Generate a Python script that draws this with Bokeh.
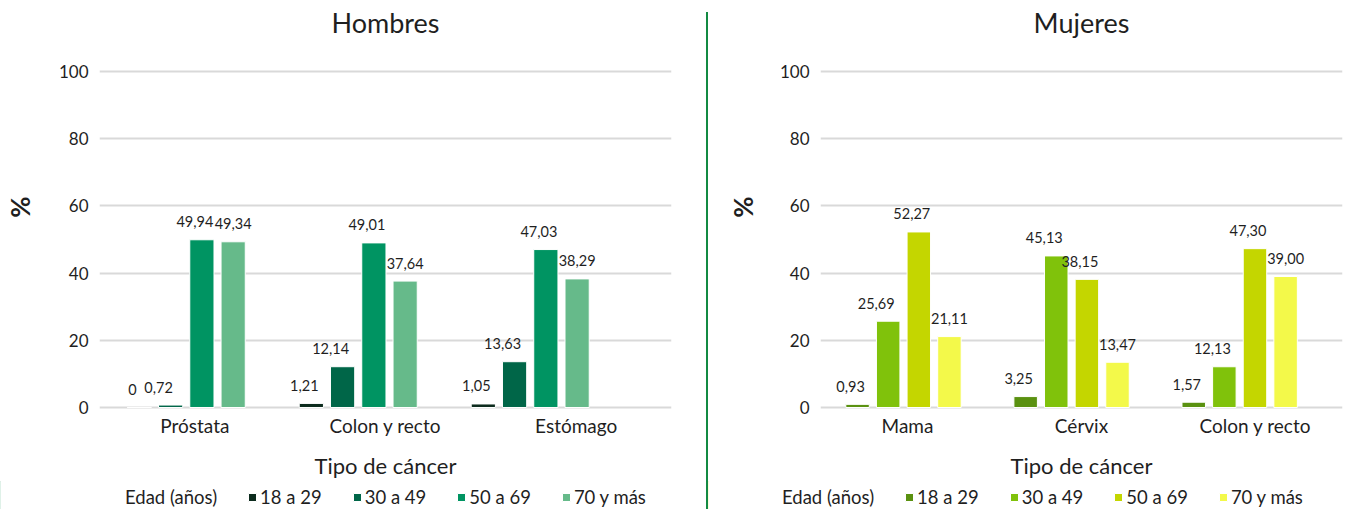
from bokeh.plotting import figure
from bokeh.models import Range1d, FixedTicker, Legend, LegendItem, ColumnDataSource, Label, Div
from bokeh.layouts import row, column
from bokeh.embed import file_html
from bokeh.resources import INLINE
from bokeh.core.properties import value

# ---------------- data ----------------
age_groups = ["18 a 29", "30 a 49", "50 a 69", "70 y más"]
legend_title = "Edad (años)"

men_cancers = ["Próstata", "Colon y recto", "Estómago"]
men_18_29 = [0, 1.21, 1.05]
men_30_49 = [0.72, 12.14, 13.63]
men_50_69 = [49.94, 49.01, 47.03]
men_70_plus = [49.34, 37.64, 38.29]

women_cancers = ["Mama", "Cérvix", "Colon y recto"]
women_18_29 = [0.93, 3.25, 1.57]
women_30_49 = [25.69, 45.13, 12.13]
women_50_69 = [52.27, 38.15, 47.30]
women_70_plus = [21.11, 13.47, 39.00]

y_ticks = [0, 20, 40, 60, 80, 100]

men_colors = ["#0c2b1d", "#006648", "#009462", "#66ba8a"]
women_colors = ["#5a9110", "#80c20b", "#c4d600", "#f3f94a"]

FONT = "Lato"
TXT = "#1f1f1f"
TITLE_Y = 114.6       # title height in axis units (above the 100 gridline)


def fmt(v):
    return "0" if v == 0 else f"{v:.2f}".replace(".", ",")


def make_panel(title, cats, series, colors, width, border_left, border_right,
               group_start, group_step, bar_step, bar_width, pct_standoff, legend_x):
    p = figure(width=width, height=481, output_backend="svg", toolbar_location=None,
               title=None,
               x_range=Range1d(0, len(cats)), y_range=Range1d(-0.6, 120),
               min_border_left=border_left, min_border_right=border_right,
               min_border_top=4, min_border_bottom=72)
    p.outline_line_color = None
    p.xgrid.grid_line_color = None
    p.ygrid.grid_line_color = "#d9d9d9"
    p.ygrid.grid_line_width = 2
    p.ygrid.ticker = FixedTicker(ticks=y_ticks)

    p.add_layout(Label(x=len(cats) / 2, y=TITLE_Y, text=title, text_align="center",
                       text_baseline="middle", text_font=FONT, text_font_size="27px",
                       text_color=TXT))

    # axes
    p.yaxis.ticker = FixedTicker(ticks=y_ticks)
    p.yaxis.axis_line_color = None
    p.yaxis.major_tick_line_color = None
    p.yaxis.minor_tick_line_color = None
    p.yaxis.major_tick_out = 0
    p.yaxis.major_tick_in = 0
    p.yaxis.major_label_text_font = FONT
    p.yaxis.major_label_text_font_size = "17px"
    p.yaxis.major_label_text_color = TXT
    p.yaxis.major_label_standoff = 11
    p.yaxis.axis_label = "%"
    p.yaxis.axis_label_text_font = FONT
    p.yaxis.axis_label_text_font_size = "26px"
    p.yaxis.axis_label_text_font_style = "bold"
    p.yaxis.axis_label_text_color = TXT
    p.yaxis.axis_label_standoff = pct_standoff

    centers = [i + 0.5 for i in range(len(cats))]
    p.xaxis.ticker = FixedTicker(ticks=centers)
    p.xaxis.major_label_overrides = {c: name for c, name in zip(centers, cats)}
    p.xaxis.axis_line_color = None
    p.xaxis.major_tick_line_color = None
    p.xaxis.minor_tick_line_color = None
    p.xaxis.major_tick_out = 0
    p.xaxis.major_tick_in = 0
    p.xaxis.major_label_text_font = FONT
    p.xaxis.major_label_text_font_size = "19px"
    p.xaxis.major_label_text_color = TXT
    p.xaxis.major_label_standoff = 4
    p.xaxis.axis_label = "Tipo de cáncer"
    p.xaxis.axis_label_text_font = FONT
    p.xaxis.axis_label_text_font_size = "22px"
    p.xaxis.axis_label_text_font_style = "normal"
    p.xaxis.axis_label_text_color = TXT
    p.xaxis.axis_label_standoff = 12

    # legend strip underneath the chart (its own x range keeps the proxy bars off-view)
    lf = figure(width=width, height=28, output_backend="svg", toolbar_location=None,
                title=None, x_range=Range1d(10, 11), y_range=Range1d(0, 1), min_border=0,
                x_axis_location=None, y_axis_location=None)
    lf.xgrid.grid_line_color = None
    lf.ygrid.grid_line_color = None
    lf.outline_line_color = None
    if "frame_align" in lf.properties():
        lf.frame_align = False
        vx = legend_x
    else:
        vx = legend_x - border_left

    title_r = lf.vbar(x=[], top=[], width=0.1, fill_alpha=0, line_alpha=0)
    items = [LegendItem(label=legend_title, renderers=[title_r])]

    label_dx = [-7, -12, -7, 0]
    for j, (vals, col, age) in enumerate(zip(series, colors, age_groups)):
        xs = [group_start + group_step * i + (j - 1.5) * bar_step for i in range(len(cats))]
        src = ColumnDataSource(dict(x=xs, top=vals, lab=[fmt(v) for v in vals]))
        p.vbar(x="x", top="top", bottom=0, width=bar_width, source=src,
               fill_color=col, line_color="white", line_width=1)
        p.text(x="x", y="top", text="lab", source=src, x_offset=label_dx[j], y_offset=-18,
               text_align="center", text_baseline="middle", text_font=value(FONT),
               text_font_size="14.5px", text_color=TXT)
        r = lf.vbar(x="x", top="top", bottom=0, width=bar_width, source=src,
                    fill_color=col, line_color="white", line_width=1)
        items.append(LegendItem(label=age, renderers=[r]))

    legend = Legend(items=items, orientation="horizontal", location=(vx, 1))
    legend.label_text_font = FONT
    legend.label_text_font_size = "18.5px"
    legend.label_text_color = TXT
    legend.glyph_width = 10
    legend.glyph_height = 10
    legend.label_standoff = 3
    legend.spacing = 30
    legend.padding = 0
    legend.margin = 0
    legend.border_line_color = None
    legend.background_fill_alpha = 0
    lf.add_layout(legend, "center")
    return column(p, lf, spacing=0)


left = make_panel("Hombres", men_cancers,
                  [men_18_29, men_30_49, men_50_69, men_70_plus], men_colors,
                  width=706, border_left=91, border_right=35,
                  group_start=0.455, group_step=0.902, bar_step=0.164, bar_width=0.127,
                  pct_standoff=20, legend_x=112)
right = make_panel("Mujeres", women_cancers,
                   [women_18_29, women_30_49, women_50_69, women_70_plus], women_colors,
                   width=640, border_left=112, border_right=6,
                   group_start=0.477, group_step=0.966, bar_step=0.176, bar_width=0.135,
                   pct_standoff=18, legend_x=61)

divider = Div(text="", width=2, height=497, margin=(12, 0, 0, 0),
              styles={"background-color": "#138a43"})

layout = row(left, divider, right, spacing=0)
open("out.html", "w").write(file_html(layout, INLINE))
